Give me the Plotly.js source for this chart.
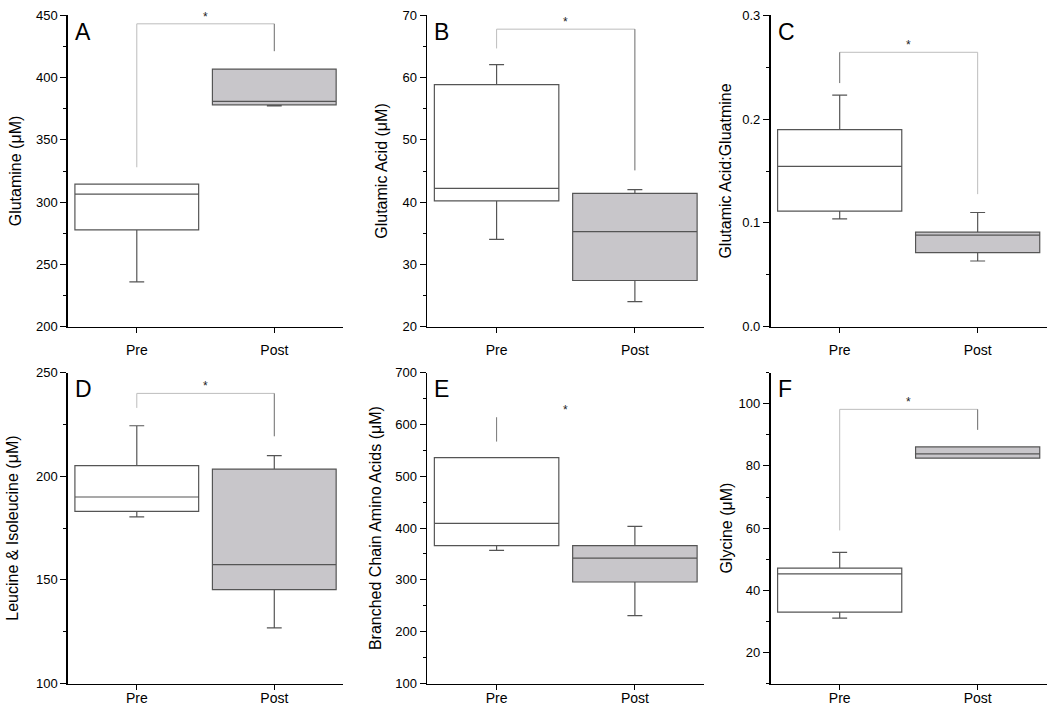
<!DOCTYPE html>
<html>
<head>
<meta charset="utf-8">
<script src="https://cdn.plot.ly/plotly-3.0.1.min.js"></script>
<style>html,body{margin:0;padding:0;background:#fff;}#chart{width:1050px;height:710px;}</style>
</head>
<body>
<div id="chart"></div>
<script>
// ---------------- data ----------------
const groups = ['Pre', 'Post'];
const panelLetters = ['A', 'B', 'C', 'D', 'E', 'F'];
const yTitles = ['Glutamine (μM)', 'Glutamic Acid (μM)', 'Glutamic Acid:Gluatmine',
                 'Leucine & Isoleucine (μM)', 'Branched Chain Amino Acids (μM)', 'Glycine (μM)'];

const preLow  = [235.9, 34.0, 0.1039, 180.4, 357.0, 31.05];
const preQ1   = [277.7, 40.2, 0.1113, 183.1, 366.0, 33.0];
const preMed  = [306.4, 42.2, 0.1545, 190.0, 409.0, 45.3];
const preQ3   = [314.4, 58.9, 0.1900, 205.1, 536.2, 47.1];
const preHigh = [314.4, 62.1, 0.2232, 224.4, 536.2, 52.2];

const postLow  = [377.4, 24.0, 0.0632, 126.85, 231.1, 82.5];
const postQ1   = [378.2, 27.4, 0.0713, 145.3, 296.0, 82.5];
const postMed  = [380.9, 35.25, 0.0881, 157.4, 342.2, 83.9];
const postQ3   = [406.9, 41.4, 0.0910, 203.5, 366.0, 86.1];
const postHigh = [406.9, 42.0, 0.1100, 210.0, 403.2, 86.1];

// y axis scales (tick labels)
const yMin  = [200, 20, 0, 100, 100, 10];
const yMax  = [450, 70, 0.3, 250, 700, 110];
const yStep = [50, 10, 0.1, 50, 100, 20];

// significance brackets
const bracketTop      = [443.3, 67.8, 0.2645, 240.0, 614.0, 98.2];
const bracketLeftEnd  = [328.0, 64.7, 0.2348, 233.0, 567.0, 59.25];
const bracketRightEnd = [421.3, 45.1, 0.1277, 219.3, null, 91.6];
const bracketBar      = [true, true, true, true, false, true];
const sigLabel = '*';

// ---------------- style / layout ----------------
const FONT = 'Arial, "Liberation Sans", sans-serif';
const colX = [[0.0648, 0.3267], [0.4071, 0.6705], [0.734, 0.9968]];
const rowY = [[0.5401, 0.9782], [0.0373, 0.4751]];
const titleStandoff = [10, 11, 7, 13, 10, 2];
const rowLabelStandoff = [5, -4];
const darkLeg = ['right', 'right', 'left', 'right', 'left', 'right'];
const LIGHT = '#bdbdbd', DARK = '#6a6a6a';
const BOXLINE = '#555555', POSTFILL = '#c8c6ca';

const traces = [];
const layout = {
  width: 1050, height: 710,
  margin: {l: 0, r: 0, t: 0, b: 0},
  paper_bgcolor: '#ffffff', plot_bgcolor: '#ffffff',
  showlegend: false, boxmode: 'overlay',
  font: {family: FONT, color: '#000'},
  shapes: [], annotations: []
};

for (let i = 0; i < 6; i++) {
  const n = i === 0 ? '' : String(i + 1);
  const xa = 'x' + n, ya = 'y' + n;
  const col = i % 3, row = Math.floor(i / 3);

  traces.push({
    type: 'box', x: [groups[0]], xaxis: xa, yaxis: ya,
    q1: [preQ1[i]], median: [preMed[i]], q3: [preQ3[i]],
    lowerfence: [preLow[i]], upperfence: [preHigh[i]],
    width: 0.9, whiskerwidth: 0.12, boxpoints: false,
    fillcolor: '#ffffff', line: {color: BOXLINE, width: 1.2}, hoverinfo: 'skip'
  });
  traces.push({
    type: 'box', x: [groups[1]], xaxis: xa, yaxis: ya,
    q1: [postQ1[i]], median: [postMed[i]], q3: [postQ3[i]],
    lowerfence: [postLow[i]], upperfence: [postHigh[i]],
    width: 0.9, whiskerwidth: 0.12, boxpoints: false,
    fillcolor: POSTFILL, line: {color: BOXLINE, width: 1.2}, hoverinfo: 'skip'
  });

  layout['xaxis' + n] = {
    domain: colX[col], anchor: ya, type: 'category',
    categoryorder: 'array', categoryarray: groups, range: [-0.5, 1.5],
    showline: true, linecolor: '#000', linewidth: 1.8,
    ticks: 'outside', ticklen: 5, tickcolor: '#000', tickwidth: 1,
    ticklabelstandoff: rowLabelStandoff[row],
    showgrid: false, zeroline: false, fixedrange: true,
    tickfont: {family: FONT, size: 14, color: '#000'}
  };
  layout['yaxis' + n] = {
    domain: rowY[row], anchor: xa,
    range: [yMin[i], yMax[i]], tick0: 0, dtick: yStep[i],
    tickformat: i === 2 ? '.1f' : '',
    showline: true, linecolor: '#000', linewidth: 1.8,
    ticks: 'outside', ticklen: 6, tickcolor: '#000', tickwidth: 1,
    minor: {ticks: 'outside', ticklen: 3, dtick: yStep[i] / 2, tick0: 0, tickcolor: '#000', showgrid: false},
    showgrid: false, zeroline: false, fixedrange: true,
    tickfont: {family: FONT, size: 13, color: '#000'},
    title: {text: yTitles[i], font: {family: FONT, size: 16, color: '#000'}, standoff: titleStandoff[i]}
  };

  // bracket
  const lc = darkLeg[i] === 'left' ? DARK : LIGHT;
  const rc = darkLeg[i] === 'right' ? DARK : LIGHT;
  if (bracketBar[i]) {
    layout.shapes.push({type: 'line', xref: xa, yref: ya, x0: 0, x1: 1,
      y0: bracketTop[i], y1: bracketTop[i], line: {color: LIGHT, width: 1}});
  }
  layout.shapes.push({type: 'line', xref: xa, yref: ya, x0: 0, x1: 0,
    y0: bracketTop[i], y1: bracketLeftEnd[i], line: {color: bracketBar[i] ? lc : '#777', width: 1}});
  if (bracketRightEnd[i] !== null) {
    layout.shapes.push({type: 'line', xref: xa, yref: ya, x0: 1, x1: 1,
      y0: bracketTop[i], y1: bracketRightEnd[i], line: {color: rc, width: 1}});
  }
  layout.annotations.push({xref: xa, yref: ya, x: 0.5, y: bracketTop[i], text: sigLabel,
    showarrow: false, yanchor: 'middle', yshift: 7,
    font: {family: FONT, size: 12, color: '#222'}});
  // panel letter
  layout.annotations.push({xref: xa + ' domain', yref: ya + ' domain', x: 0.018, y: 0.995,
    xanchor: 'left', yanchor: 'top', text: panelLetters[i], showarrow: false,
    font: {family: FONT, size: 23, color: '#000'}});
}

Plotly.newPlot('chart', traces, layout, {displayModeBar: false, staticPlot: true});
</script>
</body>
</html>
